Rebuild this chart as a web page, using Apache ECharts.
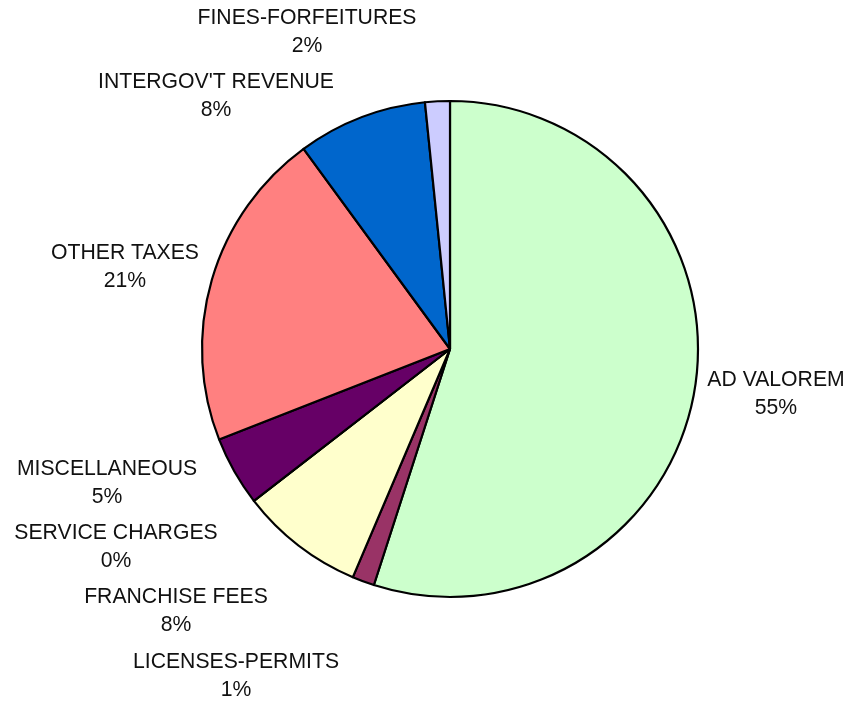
<!DOCTYPE html>
<html>
<head>
<meta charset="utf-8">
<script src="https://cdn.jsdelivr.net/npm/echarts@6/dist/echarts.min.js"></script>
<style>
html,body{margin:0;padding:0;background:#fff;}
#chart{width:856px;height:704px;}
</style>
</head>
<body>
<div id="chart"></div>
<script>
// Data
const categories = ['AD VALOREM','LICENSES-PERMITS','FRANCHISE FEES','SERVICE CHARGES','MISCELLANEOUS','OTHER TAXES',"INTERGOV'T REVENUE",'FINES-FORFEITURES'];
const shares = [54.96, 1.44, 8.11, 0, 4.54, 20.89, 8.44, 1.61];
const colors = ['#CCFFCC','#993366','#FFFFCC','#CCCCFF','#660066','#FF8080','#0066CC','#CCCCFF'];

// Label block centres (layout only)
const labelCenters = [[776,394],[236,676],[176,611],[116,547],[107,483],[125,267],[216,96],[307,32]];

const chart = echarts.init(document.getElementById('chart'), null, {renderer:'canvas'});
chart.setOption({
  animation:false,
  series:[{
    type:'pie',
    center:[450,349],
    radius:[0,248],
    startAngle:90,
    clockwise:true,
    avoidLabelOverlap:false,
    itemStyle:{borderColor:'#000',borderWidth:2.2},
    emphasis:{disabled:true},
    label:{
      show:true,
      position:'outside',
      color:'#111',
      fontFamily:'Liberation Sans, Arial, sans-serif',
      fontSize:21.2,
      lineHeight:28,
      align:'center',
      formatter:p => p.name + '\n' + Math.round(p.percent) + '%'
    },
    labelLine:{show:false},
    labelLayout:function(params){
      const c = labelCenters[params.dataIndex];
      return {x:c[0], y:c[1], align:'center', verticalAlign:'middle', hideOverlap:false, moveOverlap:null};
    },
    data: categories.map((n,i)=>({name:n, value:shares[i], itemStyle:{color:colors[i]}}))
  }]
});
</script>
</body>
</html>
